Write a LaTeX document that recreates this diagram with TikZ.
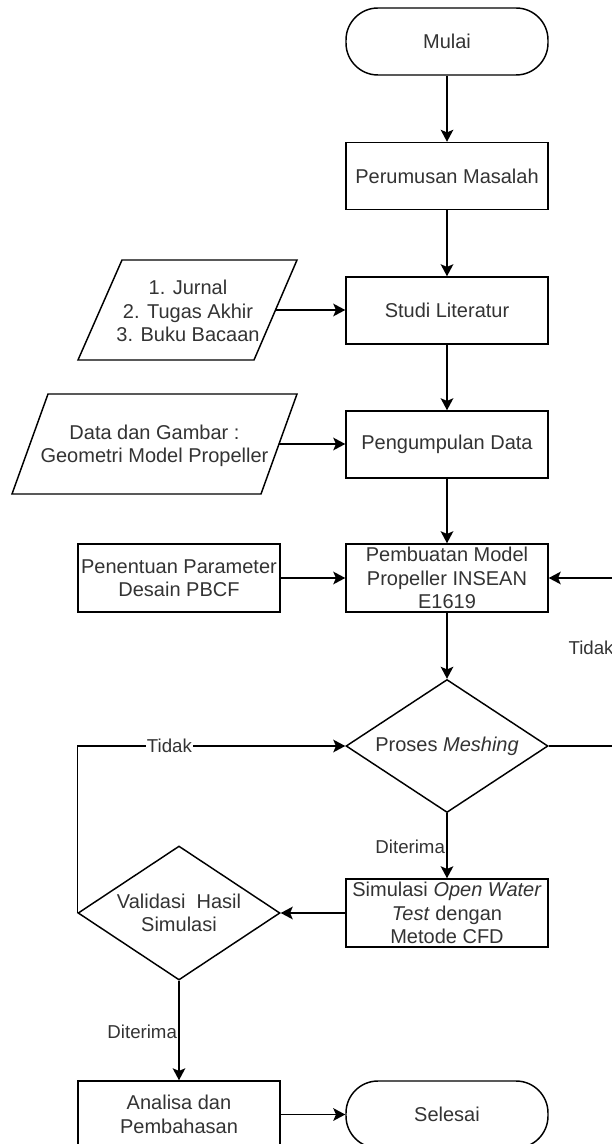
\documentclass[tikz,border=0pt]{standalone}
\usepackage{fontspec}
\setmainfont{Liberation Sans}
\usetikzlibrary{shapes.geometric,arrows.meta,calc}
\begin{document}
\begin{tikzpicture}[x=0.75pt,y=-0.75pt,
  base/.style={draw=black, line width=1.1pt, text=black!80, font=\fontsize{15}{17.5}\selectfont, align=center, inner sep=0pt},
  box/.style={base, rectangle, minimum width=151.5pt, minimum height=50.25pt},
  tallbox/.style={box, minimum height=51pt},
  term/.style={box, rounded corners=24pt},
  dec/.style={base, diamond, minimum width=151.5pt, minimum height=100pt},
  dectext/.style={text=black!80, font=\fontsize{15}{17.5}\selectfont, align=center, inner sep=0pt},
  arr/.style={-{Stealth[length=9pt,width=9.5pt,inset=2pt]}, line width=1.1pt},
  lbl/.style={font=\fontsize{14}{16}\selectfont, text=black!80, inner sep=1pt},
  shapeline/.style={draw=black, line width=1.1pt}
]
\useasboundingbox (0,0) rectangle (611,1144);

% main column
\node[term] (mulai) at (447,41.5) {Mulai};
\node[box] (rumus) at (447,176) {Perumusan Masalah};
\node[box] (studi) at (447,310.5) {Studi Literatur};
\node[box] (kumpul) at (447,444.5) {Pengumpulan Data};
\node[tallbox] (buat) at (447,578) {Pembuatan Model\\Propeller INSEAN\\E1619};
\node[dec, minimum height=99.75pt, label={[dectext]center:Proses \textit{Meshing}}] (proses) at (447,746) {};
\node[tallbox] (sim) at (447,913) {Simulasi \textit{Open Water}\\\textit{Test} dengan\\Metode CFD};
\node[term] (selesai) at (447,1114.5) {Selesai};

% left column
\node[tallbox] (tentu) at (179,578) {Penentuan Parameter\\Desain PBCF};
\node[dec, minimum height=100.5pt, label={[dectext]center:Validasi\ \ Hasil\\Simulasi}] (valid) at (179,913) {};
\node[box] (analisa) at (179,1114.5) {Analisa dan\\Pembahasan};

% parallelograms
\coordinate (p1a) at (122,260);
\coordinate (p1b) at (297,260);
\coordinate (p1c) at (254,360);
\coordinate (p1d) at (78,360);
\draw[shapeline] (p1a) -- (p1b) -- (p1c) -- (p1d) -- cycle;
\node[dectext] (lit) at (188,311) {1. Jurnal\\2. Tugas Akhir\\3. Buku Bacaan};
\coordinate (p1r) at ($(p1b)!0.5!(p1c)$);

\coordinate (p2a) at (48,394);
\coordinate (p2b) at (297,394);
\coordinate (p2c) at (261,494);
\coordinate (p2d) at (12,494);
\draw[shapeline] (p2a) -- (p2b) -- (p2c) -- (p2d) -- cycle;
\node[dectext] (datain) at (154.5,446) {Data dan Gambar :\\Geometri Model Propeller};
\coordinate (p2r) at ($(p2b)!0.5!(p2c)$);

% connectors
\draw[arr] (mulai) -- (rumus);
\draw[arr] (rumus) -- (studi);
\draw[arr] (studi) -- (kumpul);
\draw[arr] (kumpul) -- (buat);
\draw[arr] (buat) -- (proses);
\draw[arr] (p1r) -- (studi.west |- p1r);
\draw[arr] (p2r) -- (kumpul.west |- p2r);
\draw[arr] (tentu) -- (buat);
\draw[arr] (proses.south) -- node[pos=0.52, lbl, anchor=east] (dit1) {Diterima} (sim.north);
\draw[arr] (sim) -- (valid);
\draw[arr] (valid.west) |- node[pos=0.672, lbl, fill=white] (tid1) {Tidak} (proses.west);
\draw[arr] (valid.south) -- node[pos=0.515, lbl, anchor=east] (dit2) {Diterima} (analisa.north);
\draw[arr] (analisa) -- (selesai);
\coordinate (rr) at (640,746);
\draw[arr] (proses.east) -- (rr) |- (buat.east);
\node[lbl, anchor=west] (tid2) at (567,648) {Tidak};
\end{tikzpicture}
\end{document}
